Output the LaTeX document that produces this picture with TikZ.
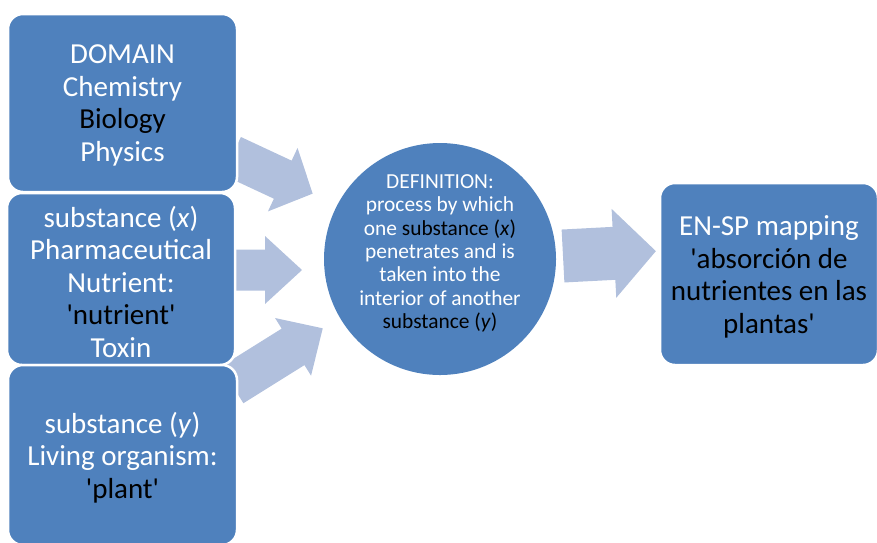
\documentclass[tikz,border=0pt]{standalone}
\usepackage{fontspec}
\setmainfont{Carlito}[Ligatures=TeXOff]

\definecolor{boxblue}{RGB}{79,129,189}
\definecolor{arrowblue}{RGB}{177,192,221}

\begin{document}
\begin{tikzpicture}[x=1pt, y=-1pt,
    box/.style = {draw=white, line width=2.5pt, fill=boxblue, rounded corners=15pt,
                  text=white, align=center, inner sep=0pt,
                  font=\fontsize{29}{32.5}\selectfont},
    defcircle/.style = {circle, fill=boxblue, text=white, align=center,
                        minimum size=232pt, inner sep=0pt,
                        font=\fontsize{21.4}{23.3}\selectfont},
    dark/.style = {text=black}]
    \useasboundingbox (0,0) rectangle (877,542);
    \clip (0,0) rectangle (877,542);

    % block arrows: tail x/tail y/angle/length/shaft/head/head length
    \foreach \ax/\ay/\ang/\len/\sw/\hw/\hl in {232/156/-25/89/42/70/33,
            232/270/0/70/41/68/37, 232/385/32/107/43/68/35,
            563/256/3/93/53/89/42} {
        \begin{scope}[shift={(\ax,\ay)}, rotate=\ang]
            \fill[arrowblue] (0,-\sw/2) -- (\len-\hl,-\sw/2) -- (\len-\hl,-\hw/2)
                -- (\len,0) -- (\len-\hl,\hw/2) -- (\len-\hl,\sw/2) -- (0,\sw/2) -- cycle;
        \end{scope}
    }

    % text height/depth: from the top of the box down to the last baseline, and on to the bottom
    \node[box, minimum width=229pt, text height=147pt, text depth=31pt] (domain) at (122.5,103)
        {DOMAIN\\Chemistry\\\textcolor{black}{Biology}\\Physics};
    \node[box, minimum width=228pt, text height=164pt, text depth=8pt] (substx) at (121,279)
        {substance (\textit{x})\\Pharmaceutical\\Nutrient:\\\textcolor{black}{'nutrient'}\\Toxin};
    \node[box, minimum width=229pt, text height=133pt, text depth=47pt] (substy) at (122.5,455)
        {substance (\textit{y})\\Living organism:\\\textcolor{black}{'plant'}};

    \node[defcircle, text height=143.6pt, text depth=5pt] (definition) at (440,259)
        {DEFINITION:\\process by which\\one \textcolor{black}{substance (\textit{x})}\\penetrates and is\\taken into the\\interior of another\\\textcolor{black}{substance (\textit{y})}};

    \node[box, minimum width=218pt, text height=150.3pt, text depth=31.7pt] (mapping) at (769,274)
        {EN-SP mapping\\\textcolor{black}{'absorción de}\\\textcolor{black}{nutrientes en las}\\\textcolor{black}{plantas'}};
\end{tikzpicture}
\end{document}
